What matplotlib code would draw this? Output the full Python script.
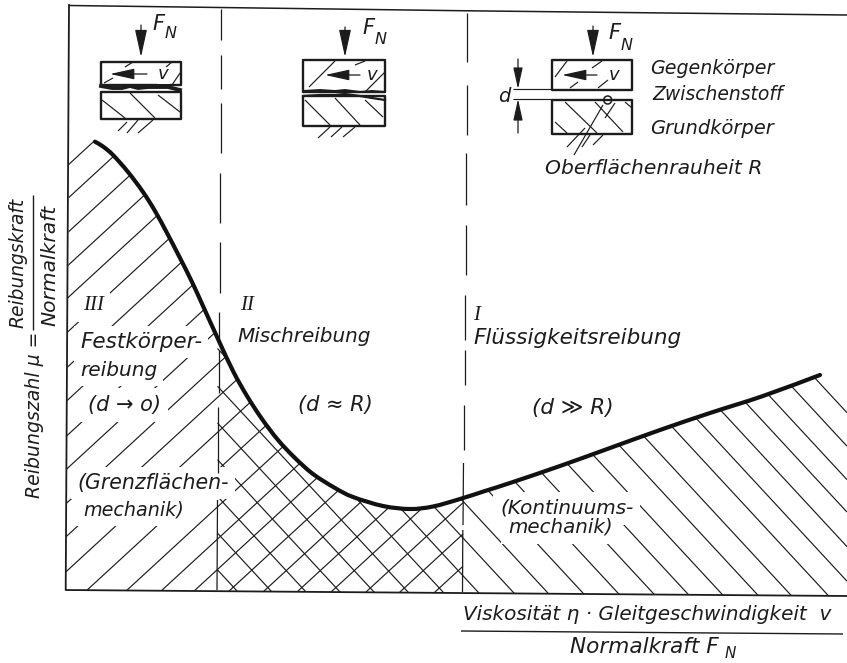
import matplotlib
matplotlib.use("Agg")
import matplotlib.pyplot as plt
from matplotlib.collections import LineCollection
from matplotlib.patches import Polygon, Circle, PathPatch, Rectangle
from matplotlib.path import Path

INK = "#1c1c1c"

# Friction curve (x, y in picture pixels)
curve_x = [95, 103, 113, 128, 143, 155, 167, 180, 192, 203, 218, 233, 247, 262, 278, 295,
           313, 335, 353, 383, 410, 433, 460, 485, 510, 560, 610, 660, 710, 763, 820]
curve_y = [141.7, 146.5, 155, 172, 192, 211, 233, 258, 282, 306, 339, 371, 396, 419, 440, 458,
           474, 488, 497, 506, 509, 506.5, 499, 491, 483, 466, 448, 430, 413, 396, 375]

frame_x = [69, 65.7, 847]
frame_y = [5, 590, 596]
frame_top_x = [69, 460, 847]
frame_top_y = [5.5, 10.7, 15]

# Dividers between regimes, as (x_top, y_top, x_bot, y_bot)
divider_1 = [(221, 9, 221, 40), (221, 55, 221, 89), (220.5, 103, 220.5, 153), (220, 173, 220, 223),
             (219.5, 242, 219.5, 293), (219, 312, 219, 340), (218.5, 350, 218.5, 393),
             (218, 407, 218, 473), (217.5, 500, 217, 590)]
divider_2 = [(466.7, 13, 466.7, 62), (466.5, 85, 466.5, 135), (466, 153, 466, 205), (465.5, 225, 465.5, 275),
             (465, 295, 465, 340), (464.5, 350, 464.5, 385), (464, 405, 464, 450), (463.5, 463, 463, 525),
             (462.8, 530, 462.5, 592)]

# Hatch anchors: x where each stroke meets y = 592
slash_x0 = [-396, -360, -323, -287, -252, -215, -177, -141, -103, -67, -30, 6, 44, 85,
            125, 160, 193, 228, 263, 297, 331, 366, 400, 435, 470]
back_x0 = [238, 272, 306, 340, 374, 408, 443, 478, 513, 547, 582, 617, 652, 686, 720,
           755, 788, 825, 857, 889, 921, 951, 982, 1013]
slash_slope = 0.92
back_slope = 1.08
hatch_base = 592

# Contact sketches: outlines (x0, y0, x1, y1)
blocks = [(100.7, 62, 180.7, 85), (100.7, 92, 180.7, 119),
          (302.7, 60, 385, 92), (302.7, 96, 385, 126),
          (552, 60, 632, 90), (552, 100, 632, 134)]

thin_strokes = [
    (104, 83, 113, 78), (125, 67, 133, 62), (166, 67, 172, 62), (172, 85, 180, 73),
    (102, 100, 125, 118), (130, 93, 155, 118), (158, 95, 180, 112),
    (118, 131, 127, 122), (127, 133, 138, 120), (138, 133, 153, 120),
    (309, 87, 335, 61), (355, 65, 365, 61), (365, 92, 385, 72),
    (305, 100, 330, 125), (335, 98, 360, 125), (365, 100, 383, 117),
    (318, 138, 330, 127), (331, 137, 342, 127), (343, 137, 355, 127),
    (555, 77, 567, 61), (592, 68, 602, 61), (570, 88, 578, 82), (598, 88, 608, 80),
    (555, 122, 567, 133), (565, 102, 597, 133), (595, 102, 623, 132), (625, 102, 632, 108),
    (567, 147, 585, 128), (582, 147, 590, 135), (593, 145, 603, 135),
    (603, 105, 574, 155), (615, 103, 605, 118),
    (513, 89, 552, 89), (513, 99, 552, 99),
]
contact_1_x = [101, 112, 122, 130, 138, 148, 158, 168, 180]
contact_1_y = [86, 88, 88, 86, 88, 87, 87, 87, 90]
contact_2a_x = [303, 320, 335, 345, 360, 372, 385]
contact_2a_y = [91, 90, 91, 90, 92, 91, 92]
contact_2b_x = [303, 320, 335, 345, 360, 372, 385]
contact_2b_y = [96, 95, 95, 94, 96, 98, 100]

force_arrows = [(141, 25, 141, 57), (345, 27, 345, 57), (593, 26, 593, 57)]
speed_arrows = [(147, 74, 110, 74), (360, 75, 325, 75), (597, 75, 562, 75)]
gap_arrows = [(518, 59, 518, 89), (518, 133, 518, 99)]
circle_centre = (607.7, 100)

# Text: string, left x, centre y, size, mask padding in pixels
labels = [
    ("Gegenkörper", 650, 68, 13.7, 0), ("Zwischenstoff", 652, 95, 13.5, 0), ("Grundkörper", 650, 128, 14, 0),
    ("Oberflächenrauheit R", 545, 168, 14.6, 0),
    ("Festkörper-", 80, 342, 15.5, 6), ("reibung", 80, 370, 14.5, 6), ("(d → o)", 88, 405, 15, 7),
    ("(Grenzflächen-", 77, 483, 14.8, 6), ("mechanik)", 83, 510, 13.8, 6),
    ("Mischreibung", 237, 337, 14.4, 0), ("(d ≈ R)", 298, 405, 15, 0),
    ("Flüssigkeitsreibung", 473, 338, 15.5, 0), ("(d ≫ R)", 532, 408, 15.5, 0),
    ("(Kontinuums-", 500, 508, 14.4, 7), ("mechanik)", 508, 527, 14.3, 7),
    ("v", 158, 74, 13, 1), ("v", 367, 75, 13, 1), ("v", 609, 75, 13, 1), ("d", 498, 97, 14, 0),
    ("Viskosität η · Gleitgeschwindigkeit  v", 463, 615, 14.4, 0),
    ("Normalkraft F", 570, 647, 15.6, 0),
]
force_labels = [("F", 152, 24, 15), ("F", 362, 28, 15), ("F", 608, 33, 15)]
sub_labels = [("N", 165, 34, 11.5), ("N", 375, 39, 11.5), ("N", 621, 45, 11.5), ("N", 725, 653, 11)]
numerals = [("III", 83, 306, 6), ("II", 240, 306, 0), ("I", 473, 316, 0)]
rot_labels = [("Reibungszahl μ =", 35, 415, 13.6), ("Reibungskraft", 18, 263, 13.4), ("Normalkraft", 50, 265, 14.6)]
fraction_bars = [(33, 195, 33, 330), (461, 631, 843, 634)]

fig = plt.figure(figsize=(8.47, 6.63), dpi=100, facecolor="white")
ax = fig.add_axes([0, 0, 1, 1])
ax.set_xlim(0, 847)
ax.set_ylim(663, 0)
ax.axis("off")


def smooth_path(xs, ys):
    """Catmull-Rom through the read points, as Bezier segments of a Path."""
    pts = list(zip(xs, ys))
    verts, codes = [pts[0]], [Path.MOVETO]
    for i in range(len(pts) - 1):
        p0 = pts[max(i - 1, 0)]
        p1, p2 = pts[i], pts[i + 1]
        p3 = pts[min(i + 2, len(pts) - 1)]
        c1 = (p1[0] + (p2[0] - p0[0]) / 6, p1[1] + (p2[1] - p0[1]) / 6)
        c2 = (p2[0] - (p3[0] - p1[0]) / 6, p2[1] - (p3[1] - p1[1]) / 6)
        verts += [c1, c2, p2]
        codes += [Path.CURVE4] * 3
    return Path(verts, codes)


# Clip region under the curve
outline = ([(frame_x[0], 158), (curve_x[0], 136)] + list(zip(curve_x, curve_y))
           + [(847, 405), (847, frame_y[2]), (frame_x[1], frame_y[1])])
region = Polygon(outline, closed=True, fc="none", ec="none", transform=ax.transData)
ax.add_patch(region)

slash = [((66, hatch_base - slash_slope * (66 - x0)), (463, hatch_base - slash_slope * (463 - x0))) for x0 in slash_x0]
back = [((217.5, hatch_base - back_slope * (x0 - 217.5)), (847, hatch_base - back_slope * (x0 - 847))) for x0 in back_x0]
for segs in (slash, back):
    lc = LineCollection(segs, colors=INK, linewidths=0.85, zorder=2)
    ax.add_collection(lc)
    lc.set_clip_path(region)

# Dividers and frame
div = [((a, b), (c, d)) for a, b, c, d in divider_1 + divider_2]
ax.add_collection(LineCollection(div, colors=INK, linewidths=0.9, zorder=4))
ax.plot(frame_x, frame_y, color=INK, lw=1.3, zorder=4)
ax.plot(frame_top_x, frame_top_y, color=INK, lw=1.1, zorder=4)

ax.add_patch(PathPatch(smooth_path(curve_x, curve_y), fc="none", ec="#111111", lw=3.0, capstyle="round",
                       joinstyle="round", zorder=5))

# Sketches
for x0, y0, x1, y1 in blocks:
    ax.add_patch(Polygon([(x0, y0), (x1, y0), (x1, y1), (x0, y1)], closed=True, fc="white", ec=INK,
                         lw=1.7, joinstyle="round", zorder=3))
ax.add_collection(LineCollection([((a, b), (c, d)) for a, b, c, d in thin_strokes], colors=INK, linewidths=0.85, zorder=4))
ax.plot(contact_1_x, contact_1_y, color=INK, lw=2.8, zorder=5)
ax.plot(contact_2a_x, contact_2a_y, color=INK, lw=1.4, zorder=5)
ax.plot(contact_2b_x, contact_2b_y, color=INK, lw=1.6, zorder=5)
ax.add_patch(Circle(circle_centre, 4, fc="none", ec=INK, lw=1.1, zorder=5))
for group, ms in ((force_arrows, 17), (speed_arrows, 15), (gap_arrows, 13)):
    for a, b, c, d in group:
        ax.annotate("", xy=(c, d), xytext=(a, b), zorder=6,
                    arrowprops=dict(arrowstyle="-|>,head_length=1.0,head_width=0.22", color=INK, lw=0.9,
                                    mutation_scale=ms, shrinkA=0, shrinkB=0))

# Text, with a white gap cut into the hatching behind the labels
renderer = fig.canvas.get_renderer()


def cut_gap(artist, pad):
    if pad <= 0:
        return
    ext = artist.get_window_extent(renderer)
    (x0, y0), (x1, y1) = ax.transData.inverted().transform([(ext.x0, ext.y0), (ext.x1, ext.y1)])
    ax.add_patch(Rectangle((x0 - pad, min(y0, y1) - pad), x1 - x0 + 2 * pad, abs(y1 - y0) + 2 * pad,
                           fc="white", ec="none", zorder=3.2))


for s, x, y, fs, pad in labels:
    cut_gap(ax.text(x, y, s, fontsize=fs, style="italic", color=INK, ha="left", va="center", zorder=6), pad)
for s, x, y, fs in force_labels + sub_labels:
    ax.text(x, y, s, fontsize=fs, style="italic", color=INK, ha="left", va="center", zorder=6)
for s, x, y, pad in numerals:
    cut_gap(ax.text(x, y, s, fontsize=15, style="italic", family="Liberation Serif", color=INK, ha="left",
                    va="center", zorder=6), pad)
for s, x, y, fs in rot_labels:
    ax.text(x, y, s, fontsize=fs, style="italic", color=INK, rotation=90, ha="center", va="center", zorder=6)
ax.add_collection(LineCollection([((a, b), (c, d)) for a, b, c, d in fraction_bars], colors=INK, linewidths=1.0, zorder=4))

fig.savefig("out.png", dpi=100, facecolor="white")
